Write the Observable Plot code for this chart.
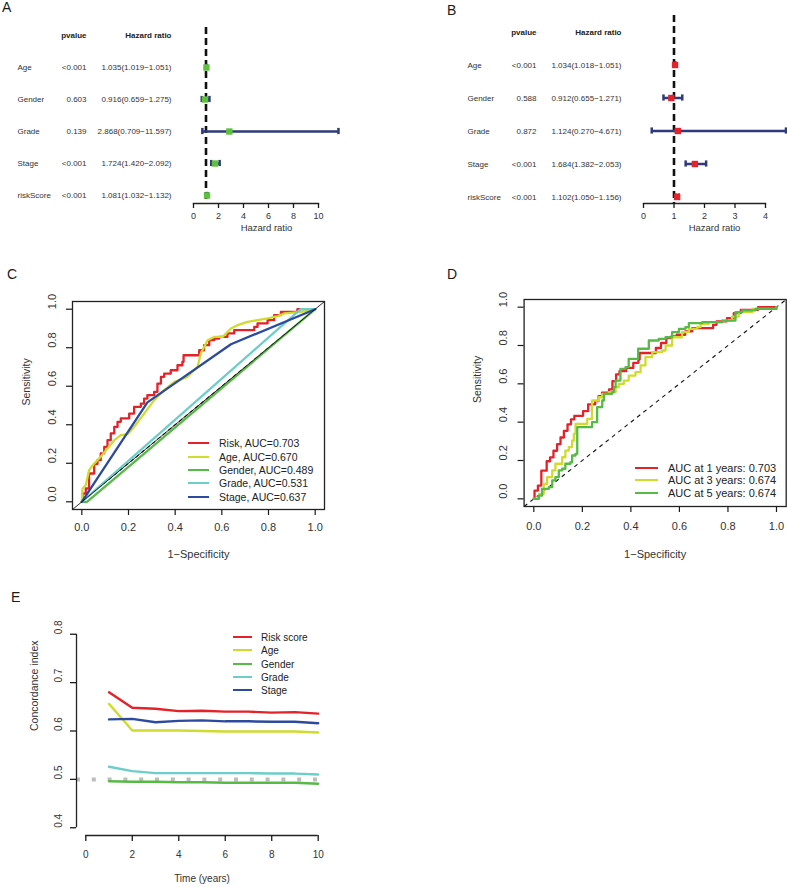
<!DOCTYPE html>
<html><head><meta charset="utf-8">
<script src="https://cdn.jsdelivr.net/npm/d3@7"></script>
<script src="https://cdn.jsdelivr.net/npm/@observablehq/plot@0.6"></script>
<style>
body{margin:0;background:#fff;}
#fig{position:relative;width:787px;height:887px;overflow:hidden;font-family:"Liberation Sans",Arial,Helvetica,sans-serif;color:#1a1a1a;}
.panel{position:absolute;}
.tag{position:absolute;font-size:14px;line-height:14px;}
.lrow{position:absolute;height:16px;display:flex;align-items:center;white-space:nowrap;color:#222;}
.sw{display:inline-block;height:2.6px;}
</style></head>
<body><div id="fig"></div>
<script>
// ---------------- data ----------------
// Panels A/B: Cox regression
const coxVars = ["Age","Gender","Grade","Stage","riskScore"];
const uniP  = ["<0.001","0.603","0.139","<0.001","<0.001"];
const uniHR = [1.035,0.916,2.868,1.724,1.081];
const uniLo = [1.019,0.659,0.709,1.420,1.032];
const uniHi = [1.051,1.275,11.597,2.092,1.132];
const multiP  = ["<0.001","0.588","0.872","<0.001","<0.001"];
const multiHR = [1.034,0.912,1.124,1.684,1.102];
const multiLo = [1.018,0.655,0.270,1.382,1.050];
const multiHi = [1.051,1.271,4.671,2.053,1.156];
const uniTicks = [0,2,4,6,8,10];
const multiTicks = [0,1,2,3,4];

// Panel C: ROC curves of clinical variables [1-specificity, sensitivity]
const rocRisk = [[0,0],[0.003,0.043],[0.017,0.069],[0.031,0.147],[0.053,0.196],[0.067,0.216],[0.081,0.251],[0.096,0.285],[0.110,0.320],[0.124,0.355],[0.139,0.389],[0.153,0.415],[0.167,0.433],[0.196,0.433],[0.203,0.458],[0.224,0.493],[0.253,0.510],[0.267,0.536],[0.281,0.554],[0.310,0.571],[0.324,0.614],[0.339,0.649],[0.353,0.666],[0.381,0.683],[0.410,0.709],[0.431,0.727],[0.436,0.761],[0.481,0.761],[0.503,0.787],[0.524,0.813],[0.546,0.839],[0.567,0.848],[0.589,0.856],[0.624,0.874],[0.653,0.891],[0.739,0.908],[0.753,0.926],[0.796,0.943],[0.824,0.969],[0.853,0.986],[0.896,0.986],[0.924,1.0],[1,1]];
const rocAge = [[0,0],[0.003,0.069],[0.017,0.087],[0.031,0.164],[0.053,0.199],[0.081,0.234],[0.110,0.277],[0.139,0.320],[0.167,0.346],[0.196,0.351],[0.224,0.389],[0.267,0.458],[0.310,0.528],[0.353,0.580],[0.396,0.623],[0.453,0.649],[0.496,0.701],[0.510,0.770],[0.539,0.839],[0.567,0.856],[0.603,0.856],[0.639,0.900],[0.667,0.917],[0.710,0.934],[0.753,0.943],[0.796,0.952],[0.839,0.964],[0.867,0.978],[0.896,0.981],[0.939,0.986],[1,1]];
const rocGender = [[0,0],[0.022,0],[1,1]];
const rocGrade = [[0,0],[0.938,1],[1,1]];
const rocStage = [[0,0],[0.281,0.516],[0.639,0.818],[1,1]];
const rocNames = ["Risk","Age","Gender","Grade","Stage"];
const rocAUC = [0.703,0.670,0.489,0.531,0.637];

// Panel D: time-dependent ROC
const roc3y = [[0,0],[0.021,0.026],[0.041,0.078],[0.055,0.113],[0.076,0.148],[0.089,0.183],[0.117,0.217],[0.130,0.252],[0.144,0.270],[0.158,0.304],[0.165,0.339],[0.172,0.391],[0.206,0.391],[0.220,0.417],[0.234,0.417],[0.240,0.513],[0.254,0.513],[0.268,0.530],[0.282,0.548],[0.309,0.557],[0.337,0.583],[0.350,0.600],[0.371,0.617],[0.391,0.643],[0.419,0.661],[0.440,0.696],[0.460,0.739],[0.488,0.765],[0.529,0.774],[0.543,0.800],[0.570,0.843],[0.611,0.870],[0.639,0.887],[0.673,0.896],[0.687,0.913],[0.721,0.922],[0.776,0.930],[0.817,0.951],[0.845,0.974],[0.900,0.991],[1,1]];
const roc5y = [[0,0],[0.021,0.017],[0.034,0.052],[0.062,0.061],[0.076,0.096],[0.089,0.113],[0.103,0.148],[0.117,0.157],[0.130,0.183],[0.151,0.191],[0.158,0.226],[0.172,0.235],[0.179,0.374],[0.240,0.374],[0.240,0.400],[0.261,0.400],[0.261,0.478],[0.282,0.513],[0.289,0.548],[0.323,0.557],[0.330,0.583],[0.337,0.617],[0.350,0.617],[0.357,0.678],[0.378,0.687],[0.391,0.730],[0.419,0.730],[0.430,0.783],[0.474,0.783],[0.474,0.826],[0.515,0.835],[0.543,0.843],[0.570,0.870],[0.598,0.887],[0.625,0.896],[0.639,0.917],[0.694,0.922],[0.749,0.922],[0.776,0.930],[0.817,0.930],[0.831,0.974],[0.858,0.983],[0.913,0.991],[1,1]];
const rocYears = [1,3,5];
const rocYearAUC = [0.703,0.674,0.674];
const rocTicks = [0,0.2,0.4,0.6,0.8,1.0];

// Panel E: C-index over time
const years = [1,2,3,4,5,6,7,8,9,10];
const cRisk   = [0.680,0.648,0.646,0.641,0.642,0.640,0.640,0.638,0.639,0.636];
const cAge    = [0.656,0.601,0.601,0.601,0.600,0.599,0.599,0.599,0.599,0.597];
const cGender = [0.496,0.495,0.495,0.494,0.494,0.493,0.493,0.493,0.493,0.491];
const cGrade  = [0.526,0.517,0.513,0.513,0.513,0.513,0.513,0.512,0.512,0.510];
const cStage  = [0.624,0.625,0.618,0.621,0.622,0.620,0.620,0.619,0.619,0.616];
const cNames = ["Risk score","Age","Gender","Grade","Stage"];
const cNull = 0.5;
const eXTicks = [0,2,4,6,8,10];
const eYTicks = [0.4,0.5,0.6,0.7,0.8];

// ---------------- styles ----------------
const FONT = "'Liberation Sans', Arial, Helvetica, sans-serif";
const RED = "#E4222A", YEL = "#CFDC2C", GRN = "#57B946", CYA = "#6DCDC9", BLU = "#2C4A9E";
const NAVY = "#2F3A7C", FGREEN = "#5DC23A";
const fmt3 = d3.format(".3f"), f1 = d3.format(".1f"), fInt = d3.format("d");
const baseStyle = {fontFamily: FONT, fontSize: "10px", color: "#1a1a1a", background: "transparent", overflow: "visible"};

const fig = document.getElementById("fig");
function place(node, left, top) {
  const w = document.createElement("div");
  w.className = "panel"; w.style.left = left + "px"; w.style.top = top + "px";
  w.appendChild(node); fig.appendChild(w);
}
function tag(t, left, top) {
  const d = document.createElement("div");
  d.className = "tag"; d.textContent = t; d.style.left = left + "px"; d.style.top = top + "px";
  fig.appendChild(d);
}
function legend(items, {left, lineLen, textLeft, ys, fontSize}) {
  items.forEach((it, i) => {
    const row = document.createElement("div");
    row.className = "lrow";
    row.style.left = left + "px"; row.style.top = (ys[i] - 8) + "px"; row.style.fontSize = fontSize + "px";
    const sw = document.createElement("span");
    sw.className = "sw"; sw.style.width = lineLen + "px"; sw.style.background = it.color;
    sw.style.marginRight = (textLeft - left - lineLen) + "px";
    const tx = document.createElement("span"); tx.textContent = it.label;
    row.appendChild(sw); row.appendChild(tx); fig.appendChild(row);
  });
}

// ---------------- forest plots ----------------
function forest(o) {
  const rows = coxVars.map((name, i) => ({name, p: o.p[i], hr: o.hr[i], lo: o.lo[i], hi: o.hi[i],
    txt: `${fmt3(o.hr[i])}(${fmt3(o.lo[i])}\u2212${fmt3(o.hi[i])})`}));
  const header = [{name: "header", p: "pvalue", txt: "Hazard ratio"}];
  const bw = (o.yRange[1] - o.yRange[0]) / (coxVars.length + 1);
  const inset = (bw - 7) / 2;
  return Plot.plot({
    width: o.width, height: 240, marginLeft: o.ml, marginRight: o.mr, marginTop: o.mt, marginBottom: 37,
    style: baseStyle,
    x: {domain: [o.ticks[0], o.ticks[o.ticks.length - 1]]},
    y: {type: "band", domain: ["header", ...coxVars], range: o.yRange, padding: 0, axis: null},
    marks: [
      Plot.ruleX([1], {stroke: "#111", strokeWidth: 2.6, strokeDasharray: "7,4"}),
      Plot.ruleY(rows, {y: "name", x1: "lo", x2: "hi", stroke: NAVY, strokeWidth: 2.5}),
      Plot.tickX(rows, {x: "lo", y: "name", stroke: NAVY, strokeWidth: 2.5, insetTop: inset, insetBottom: inset}),
      Plot.tickX(rows, {x: "hi", y: "name", stroke: NAVY, strokeWidth: 2.5, insetTop: inset, insetBottom: inset}),
      Plot.dot(rows, {x: "hr", y: "name", symbol: "square", r: 3.6, fill: o.color, stroke: "none"}),
      Plot.text(rows, {y: "name", text: "name", frameAnchor: "left", dx: -176, textAnchor: "start", fontSize: 8, fill: "#333"}),
      Plot.text(rows, {y: "name", text: "p", frameAnchor: "left", dx: -107, textAnchor: "end", fontSize: 8, fill: "#333"}),
      Plot.text(rows, {y: "name", text: "txt", frameAnchor: "left", dx: -22, textAnchor: "end", fontSize: 8, fill: "#333"}),
      Plot.text(header, {y: "name", text: "p", frameAnchor: "left", dx: -107, textAnchor: "end", fontSize: 8, fontWeight: "bold", fill: "#222"}),
      Plot.text(header, {y: "name", text: "txt", frameAnchor: "left", dx: -22, textAnchor: "end", fontSize: 8, fontWeight: "bold", fill: "#222"}),
      Plot.frame({anchor: "bottom", stroke: "#222", strokeWidth: 1.3}),
      Plot.axisX({ticks: o.ticks, tickFormat: fInt, tickSize: 5, tickPadding: 4, fontSize: 9, label: null, strokeWidth: 1.3, fill: "#333"}),
      Plot.text(["Hazard ratio"], {frameAnchor: "bottom", dx: o.labelDx, dy: 27, fontSize: 9.5, fill: "#333"})
    ]
  });
}

place(forest({p: uniP, hr: uniHR, lo: uniLo, hi: uniHi, ticks: uniTicks, color: FGREEN,
  width: 393, ml: 193, mr: 75, mt: 27, yRange: [16.6, 213.4], labelDx: 10.5}), 0, 0);
place(forest({p: multiP, hr: multiHR, lo: multiLo, hi: multiHi, ticks: multiTicks, color: RED,
  width: 392, ml: 248, mr: 22, mt: 15, yRange: [12.1, 214.9], labelDx: 10}), 395, 0);

// ---------------- ROC plots ----------------
const rocDomain = [rocTicks[0] - 0.04, rocTicks[rocTicks.length - 1] + 0.04];
function roc(o) {
  return Plot.plot({
    width: o.width, height: 310, marginLeft: o.ml, marginRight: o.mr, marginTop: o.mt, marginBottom: o.mb,
    style: baseStyle,
    x: {domain: rocDomain}, y: {domain: rocDomain},
    marks: [
      ...o.under,
      ...o.curves.map(c => Plot.line(c.data, {stroke: c.color, strokeWidth: 2.3, curve: c.curve || "linear"})),
      ...o.over,
      Plot.frame({stroke: "#222", strokeWidth: 1.3}),
      Plot.axisX({ticks: rocTicks, tickFormat: f1, tickSize: 6, tickPadding: o.tickPad, fontSize: 11, label: null, strokeWidth: 1.2, fill: "#333"}),
      Plot.axisY({ticks: rocTicks, tickFormat: () => "", tickSize: 6, label: null, strokeWidth: 1.2}),
      Plot.text(rocTicks, {y: d => d, text: f1, frameAnchor: "left", dx: o.tickDx, rotate: -90, fontSize: 11, fill: "#333"}),
      Plot.text(["Sensitivity"], {frameAnchor: "left", dx: o.labDx, rotate: -90, fontSize: 10.5, fill: "#333"}),
      Plot.text(["1\u2212Specificity"], {frameAnchor: "bottom", dy: o.labDy, fontSize: 11, fill: "#333"})
    ]
  });
}
const diag = [[rocTicks[0], rocTicks[rocTicks.length - 1]]];
place(roc({
  width: 395, ml: 72, mr: 71, mt: 41, mb: 61, tickPad: 8, tickDx: -20, labDx: -46, labDy: 48,
  under: [Plot.link(diag, {x1: d => d[0], y1: d => d[0], x2: d => d[1], y2: d => d[1], stroke: "#111", strokeWidth: 1.1, strokeDasharray: "4,3"})],
  curves: [
    {data: rocRisk, color: RED, curve: "step-after"}, {data: rocAge, color: YEL},
    {data: rocGender, color: GRN}, {data: rocGrade, color: CYA}, {data: rocStage, color: BLU}
  ],
  over: [Plot.link([rocDomain], {x1: d => d[0], y1: d => d[0], x2: d => d[1], y2: d => d[1], stroke: "#111", strokeWidth: 0.9})]
}), 0, 260);
place(roc({
  width: 392, ml: 128.6, mr: 1.3, mt: 39, mb: 64, tickPad: 10, tickDx: -20.6, labDx: -46.6, labDy: 51,
  under: [Plot.link([rocDomain], {x1: d => d[0], y1: d => d[0], x2: d => d[1], y2: d => d[1], stroke: "#111", strokeWidth: 1.1, strokeDasharray: "4,4"})],
  curves: [
    {data: rocRisk, color: RED, curve: "step-after"}, {data: roc3y, color: YEL, curve: "step-after"},
    {data: roc5y, color: GRN, curve: "step-after"}
  ],
  over: []
}), 395, 260);

// ---------------- C-index plot ----------------
const padX = 0.04 * (eXTicks[eXTicks.length - 1] - eXTicks[0]);
const padY = 0.04 * (eYTicks[eYTicks.length - 1] - eYTicks[0]);
const eXDom = [eXTicks[0] - padX, eXTicks[eXTicks.length - 1] + padX];
const eYDom = [eYTicks[0] - padY, eYTicks[eYTicks.length - 1] + padY];
const eSeries = [
  {name: cNames[0], values: cRisk, color: RED},
  {name: cNames[1], values: cAge, color: YEL},
  {name: cNames[2], values: cGender, color: GRN},
  {name: cNames[3], values: cGrade, color: CYA},
  {name: cNames[4], values: cStage, color: BLU}
];
place(Plot.plot({
  width: 400, height: 307, marginLeft: 76, marginRight: 73, marginTop: 46, marginBottom: 52,
  style: baseStyle,
  x: {domain: eXDom}, y: {domain: eYDom},
  marks: [
    Plot.ruleY([cNull], {stroke: "#BDBDBD", strokeWidth: 4, strokeDasharray: "4,11.8"}),
    ...eSeries.map(s => Plot.line(years.map((t, i) => [t, s.values[i]]), {stroke: s.color, strokeWidth: 2.4})),
    Plot.ruleX([eXDom[0]], {y1: eYTicks[0], y2: eYTicks[eYTicks.length - 1], stroke: "#222", strokeWidth: 1.3}),
    Plot.ruleY([eYDom[0]], {x1: eXTicks[0], x2: eXTicks[eXTicks.length - 1], stroke: "#222", strokeWidth: 1.3}),
    Plot.axisX({ticks: eXTicks, tickSize: 6, tickPadding: 9, fontSize: 10, label: null, strokeWidth: 1.3, fill: "#333"}),
    Plot.axisY({ticks: eYTicks, tickFormat: () => "", tickSize: 6, label: null, strokeWidth: 1.3}),
    Plot.text(eYTicks, {y: d => d, text: f1, frameAnchor: "left", dx: -18, rotate: -90, fontSize: 10, fill: "#333"}),
    Plot.text(["Concordance index"], {frameAnchor: "left", dx: -42, rotate: -90, fontSize: 10.5, fill: "#333"}),
    Plot.text(["Time (years)"], {frameAnchor: "bottom", dy: 46, fontSize: 10, fill: "#333"})
  ]
}), 0, 580);

// ---------------- legends & tags ----------------
const rocColors = [RED, YEL, GRN, CYA, BLU];
legend(rocNames.map((n, i) => ({label: `${n}, AUC=${fmt3(rocAUC[i])}`, color: rocColors[i]})),
  {left: 188, lineLen: 21, textLeft: 219, ys: [443, 457, 470, 483, 497], fontSize: 10.5});
legend(rocYears.map((y, i) => ({label: `AUC at ${y} years: ${fmt3(rocYearAUC[i])}`, color: [RED, YEL, GRN][i]})),
  {left: 635, lineLen: 23, textLeft: 668, ys: [468, 480, 493], fontSize: 11});
legend(eSeries.map(s => ({label: s.name, color: s.color})),
  {left: 233, lineLen: 19, textLeft: 261, ys: [637, 650, 664, 677, 690], fontSize: 10});

tag("A", 2, 0); tag("B", 447, 3); tag("C", 7, 267); tag("D", 447, 267); tag("E", 11, 590);
</script></body></html>
